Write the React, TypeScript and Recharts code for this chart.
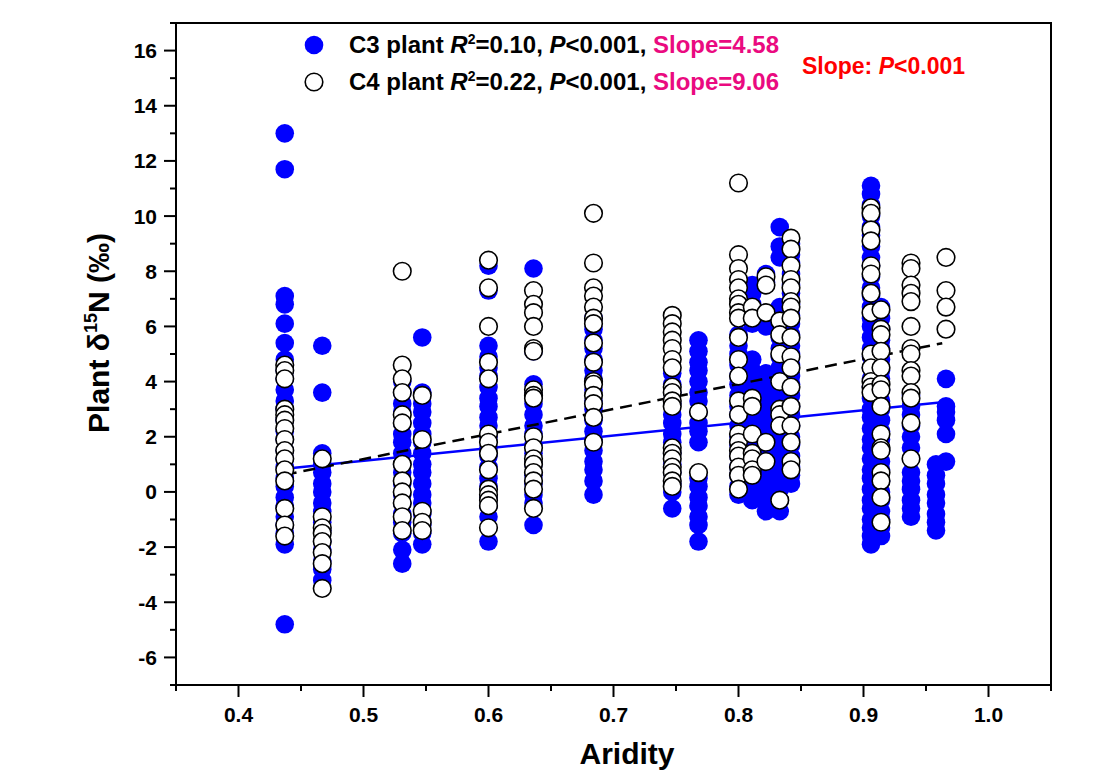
import React from 'react';
import { ScatterChart, Scatter, XAxis, YAxis, ReferenceArea } from 'recharts';

const FONT = '"Liberation Sans", Arial, Helvetica, sans-serif';
const BLUE = '#0000ff';
const PINK = '#ea0a80';

// aridity of each C3 site and the plant d15N values read at that site
const c3Sites = [0.437, 0.467, 0.531, 0.547, 0.6, 0.636, 0.684, 0.747, 0.768, 0.8, 0.811, 0.822, 0.833, 0.842, 0.906, 0.914, 0.938, 0.958, 0.966];
const c3Values = [
  [13.0, 11.7, 7.1, 6.8, 6.1, 5.4, 4.8, 4.4, 4.1, 3.7, 3.3, 3.0, 2.6, 2.2, 1.9, 1.5, 1.2, 0.9, 0.5, 0.2, -0.2, -0.5, -0.9, -1.2, -1.5, -1.9, -4.8],
  [5.3, 3.6, 1.4, 1.0, 0.7, 0.3, 0.0, -0.4, -0.7, -1.1, -1.4, -1.8, -2.1, -2.5, -2.8, -3.2],
  [4.0, 3.6, 3.2, 2.9, 2.5, 2.1, 1.8, 1.4, 1.0, 0.7, 0.3, -0.1, -0.4, -0.8, -1.1, -1.5, -2.1, -2.6],
  [5.6, 3.6, 3.2, 2.9, 2.5, 2.1, 1.8, 1.4, 1.0, 0.7, 0.3, -0.1, -0.4, -0.8, -1.2, -1.5, -1.9],
  [8.2, 7.3, 5.3, 4.9, 4.5, 4.2, 3.8, 3.4, 3.1, 2.7, 2.4, 2.0, 1.6, 1.3, 0.9, 0.5, 0.2, -0.2, -0.5, -0.9, -1.8],
  [8.1, 5.1, 3.9, 3.5, 3.2, 2.8, 2.4, 2.1, 1.7, 1.4, 1.0, 0.6, 0.3, -0.1, -0.4, -1.2],
  [6.3, 5.9, 5.5, 5.2, 4.8, 4.4, 4.1, 3.7, 3.3, 3.0, 2.6, 2.2, 1.9, 1.5, 1.1, 0.8, 0.4, -0.1],
  [4.3, 3.9, 3.6, 3.2, 2.8, 2.5, 2.1, 1.8, 1.4, 1.0, 0.7, 0.3, 0.0, -0.6],
  [5.5, 5.1, 4.7, 4.4, 4.0, 3.6, 3.3, 2.9, 2.5, 2.2, 1.8, 0.5, 0.2, -0.2, -0.5, -0.9, -1.2, -1.8],
  [5.7, 5.3, 5.0, 4.6, 4.2, 3.9, 3.5, 3.1, 2.8, 2.4, 2.0, 1.7, 1.3, 0.9, 0.6, 0.2, -0.1],
  [7.5, 7.2, 6.8, 6.5, 6.1, 4.8, 4.4, 4.1, 3.7, 3.3, 3.0, 2.6, 2.2, 1.9, 1.5, 1.1, 0.8, 0.4, 0.0, -0.3],
  [7.9, 7.6, 6.0, 4.3, 3.9, 3.6, 3.2, 2.8, 2.5, 2.1, 1.7, 1.4, 1.0, 0.6, 0.3, -0.1, -0.4, -0.7],
  [9.6, 8.9, 8.5, 6.7, 6.3, 6.0, 5.6, 5.2, 4.9, 4.5, 4.1, 3.8, 3.4, 3.0, 2.7, 2.3, 1.9, 1.6, 1.2, 0.8, 0.5, 0.1, -0.3, -0.7],
  [9.0, 8.6, 8.3, 7.9, 7.5, 7.2, 6.8, 6.4, 6.1, 5.7, 5.3, 5.0, 4.6, 4.2, 3.9, 3.5, 3.1, 2.8, 2.4, 2.0, 1.7, 1.3, 0.9, 0.6, 0.3],
  [11.1, 10.8, 10.4, 10.0, 9.6, 9.3, 8.9, 8.5, 8.2, 7.8, 7.4, 7.1, 6.7, 6.3, 6.0, 5.6, 5.2, 4.9, 4.5, 4.1, 3.8, 3.4, 3.0, 2.7, 2.3, 1.9, 1.6, 1.2, 0.8, 0.5, 0.1, -0.3, -0.6, -1.0, -1.3, -1.6, -1.9],
  [6.7, 6.3, 5.9, 5.5, 5.2, 4.8, 4.4, 4.1, 3.7, 3.3, 3.0, 2.6, 2.2, 1.9, 1.5, 1.1, 0.8, 0.4, 0.0, -0.3, -0.7, -1.0, -1.3, -1.6],
  [3.5, 3.1, 2.8, 2.4, 2.0, 1.6, 0.7, 0.4, 0.1, -0.3, -0.6, -0.9],
  [1.0, 0.6, 0.3, -0.1, -0.4, -0.8, -1.1, -1.4],
  [4.1, 3.1, 2.9, 2.6, 2.1, 1.1],
];

const c4Sites = [0.437, 0.467, 0.531, 0.547, 0.6, 0.636, 0.684, 0.747, 0.768, 0.8, 0.811, 0.822, 0.833, 0.842, 0.906, 0.914, 0.938, 0.966];
const c4Values = [
  [4.6, 4.4, 4.1, 3.0, 2.8, 2.6, 2.3, 1.9, 1.5, 1.2, 0.8, 0.4, -0.6, -1.2, -1.6],
  [1.2, -0.9, -1.3, -1.5, -1.8, -2.2, -2.6, -3.5],
  [8.0, 4.6, 4.1, 3.6, 2.8, 2.5, 1.0, 0.4, 0.0, -0.4, -0.9, -1.4],
  [3.5, 1.9, -0.7, -1.1, -1.4],
  [8.4, 7.4, 6.0, 4.7, 4.1, 2.1, 1.8, 1.4, 0.8, 0.1, -0.1, -0.3, -0.5, -1.3],
  [7.3, 6.8, 6.5, 6.0, 5.2, 5.1, 3.7, 3.5, 3.4, 2.0, 1.6, 1.2, 1.0, 0.7, 0.4, 0.1, -0.6],
  [10.1, 8.3, 7.4, 7.1, 6.7, 6.3, 6.1, 5.4, 4.7, 4.0, 3.9, 3.5, 3.2, 2.7, 1.8],
  [6.4, 6.1, 5.8, 5.5, 5.2, 4.8, 4.5, 3.8, 3.6, 3.3, 3.1, 1.6, 1.4, 1.2, 0.9, 0.7, 0.4, 0.2],
  [2.9, 0.7],
  [11.2, 8.6, 8.1, 7.7, 7.4, 7.0, 6.8, 6.5, 6.3, 5.6, 4.8, 4.2, 3.3, 2.8, 2.1, 1.8, 1.5, 1.3, 0.9, 0.6, 0.1],
  [6.7, 6.3, 3.4, 3.1, 2.1, 1.4, 1.2, 0.8, 0.6],
  [7.8, 7.5, 6.5, 1.8, 1.1],
  [6.2, 5.7, 5.0, 4.0, 3.0, 2.8, 2.4, -0.3],
  [9.2, 8.8, 8.2, 7.7, 7.4, 6.9, 6.7, 6.3, 5.6, 4.9, 4.5, 3.8, 3.1, 2.4, 1.8, 1.1, 0.8],
  [10.3, 10.1, 9.5, 9.1, 8.2, 7.9, 7.2, 6.5, 5.0, 4.5, 4.0, 3.8, 3.6],
  [6.6, 5.9, 5.7, 5.1, 4.5, 3.9, 3.7, 3.1, 2.1, 1.6, 1.5, 0.7, 0.4, -0.2, -1.1],
  [8.3, 8.1, 7.5, 7.2, 6.9, 6.0, 5.2, 5.0, 4.4, 4.2, 3.6, 3.4, 2.5, 1.2],
  [8.5, 7.3, 6.7, 5.9],
];

// end points of the fitted regression lines
const c3Fit = [{ x: 0.437, y: 0.84 }, { x: 0.963, y: 3.25 }];
const c4Fit = [{ x: 0.437, y: 0.62 }, { x: 0.963, y: 5.39 }];

const xTicks = [0.35, 0.4, 0.45, 0.5, 0.55, 0.6, 0.65, 0.7, 0.75, 0.8, 0.85, 0.9, 0.95, 1.0, 1.05];
const xLabels = [0.4, 0.5, 0.6, 0.7, 0.8, 0.9, 1.0];
const yTicks = [-7, -6, -5, -4, -3, -2, -1, 0, 1, 2, 3, 4, 5, 6, 7, 8, 9, 10, 11, 12, 13, 14, 15, 16, 17];
const yLabels = [-6, -4, -2, 0, 2, 4, 6, 8, 10, 12, 14, 16];

const toPoints = (sites: number[], values: number[][]) =>
  sites.flatMap((x, i) => values[i].map(y => ({ x, y })));

const c3Data = toPoints(c3Sites, c3Values);
const c4Data = toPoints(c4Sites, c4Values);

const XTick = ({ x, y, payload }: any) => {
  const major = xLabels.includes(payload.value);
  return (
    <g>
      <line x1={x} x2={x} y1={y} y2={y + (major ? 12 : 6)} stroke="#000" strokeWidth={2} />
      {major && (
        <text x={x} y={y + 37} textAnchor="middle" fontFamily={FONT} fontWeight="bold" fontSize={21} fill="#000">
          {payload.value.toFixed(1)}
        </text>
      )}
    </g>
  );
};

const YTick = ({ x, y, payload }: any) => {
  const major = yLabels.includes(payload.value);
  return (
    <g>
      <line x1={x} x2={x - (major ? 12 : 6)} y1={y} y2={y} stroke="#000" strokeWidth={2} />
      {major && (
        <text x={x - 19} y={y + 7.5} textAnchor="end" fontFamily={FONT} fontWeight="bold" fontSize={21} fill="#000">
          {payload.value}
        </text>
      )}
    </g>
  );
};

const FilledDot = (p: any) => <circle cx={p.cx} cy={p.cy} r={9.3} fill={BLUE} />;
const OpenDot = (p: any) => <circle cx={p.cx} cy={p.cy} r={8.8} fill="#fff" stroke="#000" strokeWidth={1.6} />;
const NoDot = () => <g />;

export default function App() {
  return (
    <div style={{ position: 'absolute', left: 0, top: 0, width: 1104, height: 774, background: '#fff' }}>
      <ScatterChart width={1104} height={774} margin={{ top: 23, right: 53, bottom: 49, left: 116 }}>
        <XAxis
          type="number"
          dataKey="x"
          domain={[0.35, 1.05]}
          ticks={xTicks}
          interval={0}
          height={40}
          tickSize={0}
          tickMargin={0}
          tickLine={false}
          tick={XTick}
          axisLine={{ stroke: '#000', strokeWidth: 2 }}
          allowDataOverflow
        />
        <YAxis
          type="number"
          dataKey="y"
          domain={[-7, 17]}
          ticks={yTicks}
          interval={0}
          width={60}
          tickSize={0}
          tickMargin={0}
          tickLine={false}
          tick={YTick}
          axisLine={{ stroke: '#000', strokeWidth: 2 }}
          allowDataOverflow
        />
        <ReferenceArea x1={0.35} x2={1.05} y1={-7} y2={17} fill="none" stroke="#000" strokeWidth={2} />
        <Scatter data={c3Data} shape={FilledDot} isAnimationActive={false} />
        <Scatter data={c3Fit} shape={NoDot} fill="none" line={{ stroke: BLUE, strokeWidth: 2.5 }} isAnimationActive={false} />
        <Scatter data={c4Fit} shape={NoDot} fill="none" line={{ stroke: '#000', strokeWidth: 2.5, strokeDasharray: '12 7' }} isAnimationActive={false} />
        <Scatter data={c4Data} shape={OpenDot} isAnimationActive={false} />

        <g fontFamily={FONT} fontWeight="bold" fill="#000">
          <circle cx={314} cy={45} r={9.3} fill={BLUE} />
          <circle cx={314} cy={82} r={8.8} fill="#fff" stroke="#000" strokeWidth={1.6} />
          <text x={349} y={53} fontSize={24}>
            C3 plant <tspan fontStyle="italic">R</tspan>
            <tspan dy={-9} fontSize={14}>2</tspan>
            <tspan dy={9}>=0.10, </tspan>
            <tspan fontStyle="italic">P</tspan>&lt;0.001, <tspan fill={PINK}>Slope=4.58</tspan>
          </text>
          <text x={349} y={90} fontSize={24}>
            C4 plant <tspan fontStyle="italic">R</tspan>
            <tspan dy={-9} fontSize={14}>2</tspan>
            <tspan dy={9}>=0.22, </tspan>
            <tspan fontStyle="italic">P</tspan>&lt;0.001, <tspan fill={PINK}>Slope=9.06</tspan>
          </text>
          <text x={802} y={74} fontSize={23} fill="#ff0000">
            Slope: <tspan fontStyle="italic">P</tspan>&lt;0.001
          </text>
          <text x={627} y={764} fontSize={30} textAnchor="middle">Aridity</text>
          <text x={109} y={333} fontSize={30} textAnchor="middle" transform="rotate(-90 109 333)">
            Plant δ<tspan dy={-12} fontSize={18}>15</tspan>
            <tspan dy={12}>N (‰)</tspan>
          </text>
        </g>
      </ScatterChart>
    </div>
  );
}
